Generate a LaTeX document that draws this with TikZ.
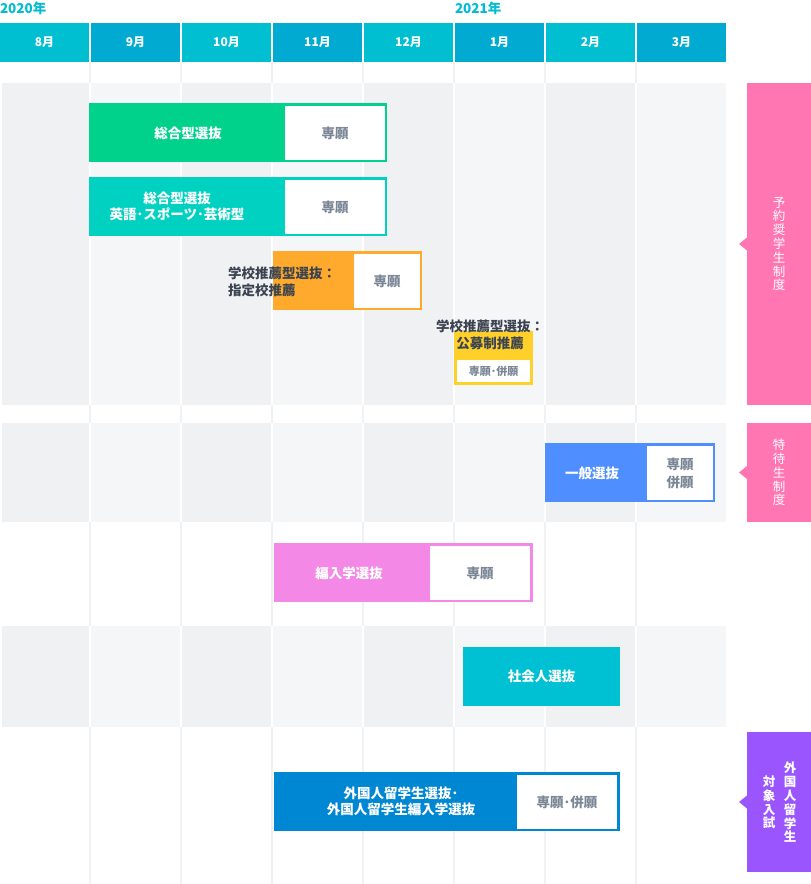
\documentclass[tikz,border=0pt]{standalone}
\usepackage{fontspec}
\setmainfont{Noto Sans CJK JP}
\definecolor{hdrA}{HTML}{00BFD0}
\definecolor{hdrB}{HTML}{00AAD1}
\definecolor{yeartxt}{HTML}{00BCD0}
\definecolor{cellDark}{HTML}{F0F1F3}
\definecolor{cellLight}{HTML}{F5F6F8}
\definecolor{gapline}{HTML}{F0F1F3}
\definecolor{cGreen}{HTML}{00D28C}
\definecolor{cTeal}{HTML}{00D1C1}
\definecolor{cOrange}{HTML}{FFAA2C}
\definecolor{cYellow}{HTML}{FFCF2A}
\definecolor{cBlue}{HTML}{4F8EFF}
\definecolor{cPink}{HTML}{F388E6}
\definecolor{cCyan}{HTML}{00C1D3}
\definecolor{cBlueD}{HTML}{0087D3}
\definecolor{lblPink}{HTML}{FF76B2}
\definecolor{lblPurple}{HTML}{9B55FF}
\definecolor{grayTxt}{HTML}{7B8796}
\definecolor{darkTxt}{HTML}{3B4350}
\begin{document}
\begin{tikzpicture}[x=1pt,y=-1pt,
  every node/.style={inner sep=0pt, outer sep=0pt},
  hdr/.style={anchor=north west, minimum width=89pt, minimum height=39pt, text=white, font=\bfseries\fontsize{12}{14}\selectfont},
  yearlbl/.style={anchor=west, text=yeartxt, font=\bfseries\fontsize{13.5}{16}\selectfont},
  barbox/.style={anchor=north west},
  inbox/.style={anchor=north west, fill=white},
  wtext/.style={text=white, align=center, font=\bfseries\fontsize{13.5}{16}\selectfont},
  gtext/.style={text=grayTxt, align=center, font=\bfseries\fontsize{13.5}{18}\selectfont},
  stext/.style={text=grayTxt, align=center, font=\bfseries\fontsize{11}{13}\selectfont},
  dtext/.style={text=darkTxt, font=\bfseries\fontsize{13.5}{17}\selectfont},
  vtext/.style={text=white, align=center, font=\fontsize{12.5}{13.8}\selectfont},
  vtextb/.style={text=white, align=center, font=\bfseries\fontsize{12.5}{13.8}\selectfont},
  lblbox/.style={anchor=north west}
]
\useasboundingbox (0,0) rectangle (811,884);
\fill[white] (0,0) rectangle (811,884);

% years
\node[yearlbl] (y2020) at (0,8) {2020年};
\node[yearlbl] (y2021) at (455,8) {2021年};

% header
\foreach \i/\m/\c in {0/8月/hdrA,1/9月/hdrB,2/10月/hdrA,3/11月/hdrB,4/12月/hdrA,5/1月/hdrB,6/2月/hdrA,7/3月/hdrB}{
  \node[hdr, fill=\c] (m\i) at ({91*\i},23) {\m};
}

% vertical gap lines
\foreach \i in {1,...,7}{
  \fill[gapline] ({91*\i-2},62) rectangle ({91*\i},884);
}

% gray bands
\foreach \ya/\yb in {83/405,423/522,626/727}{
  \fill[white] (0,\ya) rectangle (726,\yb);
  \foreach \i in {0,...,7}{
    \pgfmathtruncatemacro{\odd}{mod(\i,2)}
    \ifnum\odd=0 \def\cc{cellDark}\else\def\cc{cellLight}\fi
    \pgfmathsetmacro{\xa}{\i==0 ? 2 : 91*\i}
    \fill[\cc] (\xa,\ya) rectangle ({91*\i+89},\yb);
  }
}

% side labels
\node[lblbox, fill=lblPink, minimum width=64pt, minimum height=322pt] (L1) at (747,83) {};
\fill[lblPink] (747,237.5) -- (739,244) -- (747,250.5) -- cycle;
\node[vtext] (L1t) at (L1.center) {予\\約\\奨\\学\\生\\制\\度};

\node[lblbox, fill=lblPink, minimum width=64pt, minimum height=99pt] (L2) at (747,423) {};
\fill[lblPink] (747,466) -- (739,472.5) -- (747,479) -- cycle;
\node[vtext] (L2t) at (L2.center) {特\\待\\生\\制\\度};

\node[lblbox, fill=lblPurple, minimum width=64pt, minimum height=140pt] (L3) at (747,732) {};
\fill[lblPurple] (747,795.5) -- (739,802) -- (747,808.5) -- cycle;
\node[vtextb] (L3a) at (790,802.5) {外\\国\\人\\留\\学\\生};
\node[vtextb] (L3b) at (769,802.5) {対\\象\\入\\試};

% bar 1
\node[barbox, fill=cGreen, minimum width=298pt, minimum height=59pt] (b1) at (89,103) {};
\node[inbox, minimum width=100pt, minimum height=54pt] (b1w) at (285,106) {};
\node[wtext] (b1t) at (188,133) {総合型選抜};
\node[gtext] (b1s) at (b1w.center) {専願};

% bar 2
\node[barbox, fill=cTeal, minimum width=298pt, minimum height=59pt] (b2) at (89,177) {};
\node[inbox, minimum width=100pt, minimum height=54pt] (b2w) at (285,180) {};
\node[wtext] (b2t) at (177,206.5) {総合型選抜\\英語･スポーツ･芸術型};
\node[gtext] (b2s) at (b2w.center) {専願};

% bar 3
\node[barbox, fill=cOrange, minimum width=149pt, minimum height=59pt] (b3) at (273,251) {};
\node[inbox, minimum width=66pt, minimum height=54pt] (b3w) at (354,254) {};
\node[dtext, anchor=west, align=left] (b3t) at (228,281.5) {学校推薦型選抜：\\指定校推薦};
\node[gtext] (b3s) at (b3w.center) {専願};

% bar 4
\node[barbox, fill=cYellow, minimum width=79pt, minimum height=54pt] (b4) at (454,331) {};
\node[inbox, minimum width=73pt, minimum height=22pt] (b4w) at (457,360) {};
\node[dtext, align=center] (b4t) at (490,335) {学校推薦型選抜：\\公募制推薦};
\node[stext] (b4s) at (b4w.center) {専願･併願};

% bar 5
\node[barbox, fill=cBlue, minimum width=170pt, minimum height=59pt] (b5) at (545,443) {};
\node[inbox, minimum width=66pt, minimum height=54pt] (b5w) at (647,446) {};
\node[wtext] (b5t) at (592,473) {一般選抜};
\node[gtext] (b5s) at (b5w.center) {専願\\併願};

% bar 6
\node[barbox, fill=cPink, minimum width=259pt, minimum height=59pt] (b6) at (274,543) {};
\node[inbox, minimum width=100pt, minimum height=54pt] (b6w) at (430,546) {};
\node[wtext] (b6t) at (349,573) {編入学選抜};
\node[gtext] (b6s) at (b6w.center) {専願};

% bar 7
\node[barbox, fill=cCyan, minimum width=157pt, minimum height=59pt] (b7) at (463,647) {};
\node[wtext] (b7t) at (b7.center) {社会人選抜};

% bar 8
\node[barbox, fill=cBlueD, minimum width=346pt, minimum height=59pt] (b8) at (274,772) {};
\node[inbox, minimum width=100pt, minimum height=54pt] (b8w) at (517,775) {};
\node[wtext] (b8t) at (401,801) {外国人留学生選抜･\\外国人留学生編入学選抜};
\node[gtext] (b8s) at (b8w.center) {専願･併願};
\end{tikzpicture}
\end{document}
